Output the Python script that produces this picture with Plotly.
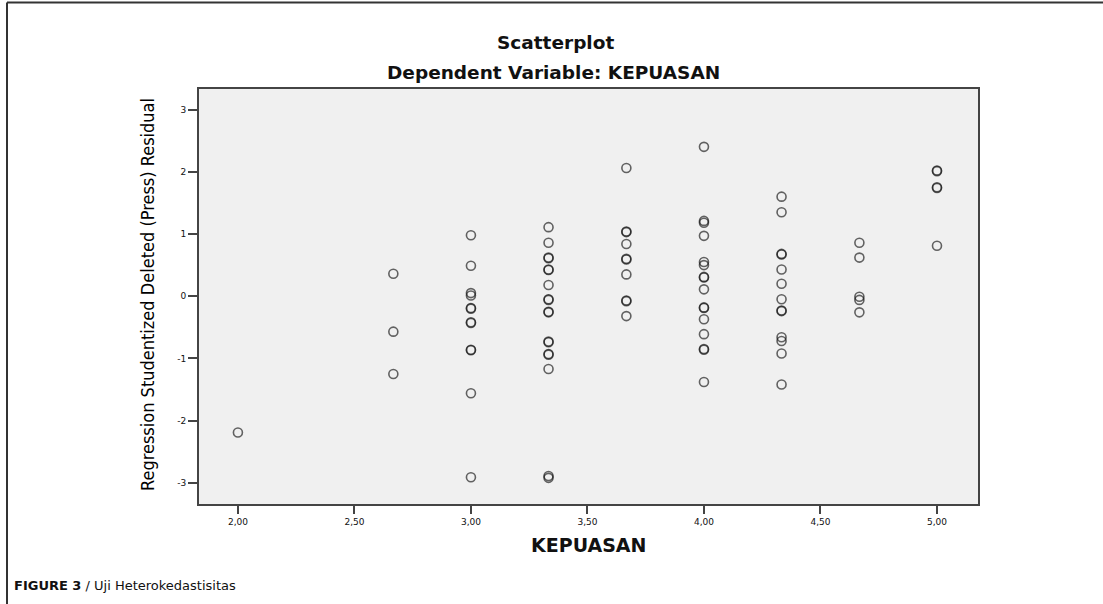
import plotly.graph_objects as go

# ---- data ----
KEPUASAN_LEVELS = [2.0, 2.667, 3.0, 3.333, 3.667, 4.0, 4.333, 4.667, 5.0]
RES_200 = [-2.19]
RES_267 = [0.36, -0.57, -1.25]
RES_300 = [0.98, 0.49, 0.05, 0.01, -0.19, -0.20, -0.42, -0.43, -0.86, -0.87, -1.56, -2.91]
RES_333 = [1.11, 0.86, 0.62, 0.61, 0.42, 0.43, 0.18, -0.05, -0.06, -0.25, -0.26,
           -0.73, -0.74, -0.93, -0.94, -1.17, -2.89, -2.92]
RES_367 = [2.06, 1.04, 1.03, 0.84, 0.60, 0.59, 0.35, -0.07, -0.08, -0.32]
RES_400 = [2.40, 1.21, 1.18, 0.97, 0.55, 0.50, 0.31, 0.30, 0.11, -0.18, -0.19,
           -0.37, -0.61, -0.85, -0.86, -1.38]
RES_433 = [1.60, 1.35, 0.67, 0.68, 0.43, 0.20, -0.05, -0.23, -0.24, -0.66, -0.72, -0.92, -1.42]
RES_467 = [0.86, 0.62, -0.01, -0.06, -0.26]
RES_500 = [2.02, 2.01, 1.74, 1.75, 0.81]
RESIDUAL_GROUPS = [RES_200, RES_267, RES_300, RES_333, RES_367, RES_400, RES_433, RES_467, RES_500]

X_TICKS = [2.0, 2.5, 3.0, 3.5, 4.0, 4.5, 5.0]
X_TICK_LABELS = ["2,00", "2,50", "3,00", "3,50", "4,00", "4,50", "5,00"]
Y_TICKS = [-3, -2, -1, 0, 1, 2, 3]
Y_TICK_LABELS = ["-3", "-2", "-1", "0", "1", "2", "3"]

xs, ys = [], []
for lvl, grp in zip(KEPUASAN_LEVELS, RESIDUAL_GROUPS):
    for r in grp:
        xs.append(lvl)
        ys.append(r)

W, H = 1103, 604
L, R, T, B = 199, 125, 89, 100
pw, ph = W - L - R, H - T - B


def px(xpix):
    return (xpix - L) / pw


def py(ypix):
    return (H - B - ypix) / ph


fig = go.Figure()
fig.add_trace(go.Scatter(
    x=xs, y=ys, mode="markers",
    marker=dict(symbol="circle-open", size=9,
                line=dict(width=1.6, color="rgba(20,20,20,0.65)"),
                color="rgba(20,20,20,0.65)"),
    hoverinfo="x+y", showlegend=False,
))

tickfont = dict(family="DejaVu Sans", size=9, color="#111")
fig.update_layout(
    width=W, height=H, autosize=False,
    margin=dict(l=L, r=R, t=T, b=B, pad=0),
    paper_bgcolor="white", plot_bgcolor="#f0f0f0",
    xaxis=dict(range=[1.833, 5.176], tickvals=X_TICKS, ticktext=X_TICK_LABELS,
               showgrid=False, zeroline=False, showline=True, linecolor="#444",
               linewidth=2, mirror=True, ticks="outside", ticklen=8, tickwidth=1.5,
               tickcolor="#444", tickfont=tickfont),
    yaxis=dict(range=[-3.34, 3.33], tickvals=Y_TICKS, ticktext=Y_TICK_LABELS,
               showgrid=False, zeroline=False, showline=True, linecolor="#444",
               linewidth=2, mirror=True, ticks="outside", ticklen=9, tickwidth=1.5,
               tickcolor="#444", tickfont=tickfont),
    font=dict(family="DejaVu Sans", color="#111"),
)

ann = [
    dict(text="<b>Scatterplot</b>", x=px(555), y=py(42), size=18.5, fam="DejaVu Sans", xa="center"),
    dict(text="<b>Dependent Variable: KEPUASAN</b>", x=px(553), y=py(73), size=18.5, fam="DejaVu Sans", xa="center"),
    dict(text="<b>KEPUASAN</b>", x=px(588), y=py(545), size=19, fam="DejaVu Sans", xa="center"),
    dict(text="<b>FIGURE 3</b> / Uji Heterokedastisitas", x=px(12), y=py(585), size=13,
         fam="DejaVu Sans", xa="left"),
]
for a in ann:
    fig.add_annotation(text=a["text"], x=a["x"], y=a["y"], xref="paper", yref="paper",
                       xanchor=a["xa"], yanchor="middle", showarrow=False,
                       font=dict(family=a["fam"], size=a["size"], color="#111"))

fig.add_annotation(text="Regression Studentized Deleted (Press) Residual",
                   x=px(147), y=py(295), xref="paper", yref="paper", textangle=-90,
                   xanchor="center", yanchor="middle", showarrow=False,
                   font=dict(family="DejaVu Sans Condensed, Liberation Sans Narrow, Liberation Sans, sans-serif",
                             size=18, color="#000"))

# outer figure frame (top and left)
fig.add_shape(type="line", xref="paper", yref="paper", x0=px(7), x1=px(1110),
              y0=py(2.5), y1=py(2.5), line=dict(color="#333", width=2))
fig.add_shape(type="line", xref="paper", yref="paper", x0=px(7), x1=px(7),
              y0=py(2.5), y1=py(610), line=dict(color="#333", width=2))

fig.write_html("out.html", config={"displayModeBar": False},
               post_script="document.body.style.margin='0';")
